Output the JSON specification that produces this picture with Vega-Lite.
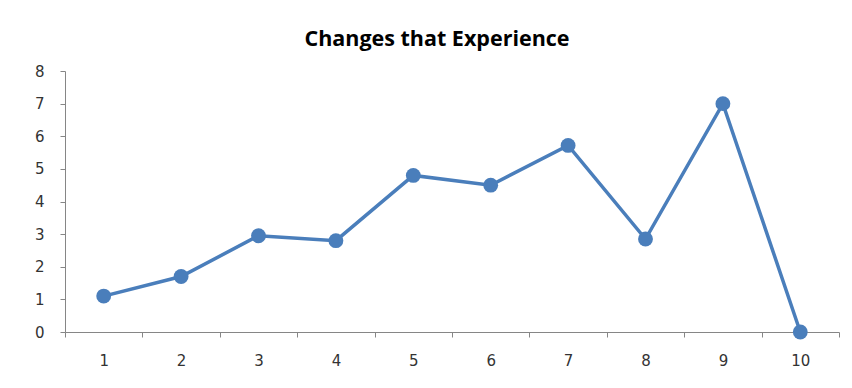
{
  "$schema": "https://vega.github.io/schema/vega-lite/v6.json",
  "autosize": "none",
  "width": 774,
  "height": 261,
  "padding": {"left": 65, "top": 71, "right": 13, "bottom": 56},
  "background": "white",
  "title": {
    "text": "Changes that Experience",
    "font": "Open Sans",
    "fontSize": 21.5,
    "fontWeight": "bold",
    "color": "#000000",
    "anchor": "middle",
    "dx": -15,
    "offset": 14
  },
  "config": {"view": {"stroke": null}},
  "data": {
    "values": [
      {"x": "1", "y": 1.1},
      {"x": "2", "y": 1.7},
      {"x": "3", "y": 2.95},
      {"x": "4", "y": 2.8},
      {"x": "5", "y": 4.8},
      {"x": "6", "y": 4.5},
      {"x": "7", "y": 5.72},
      {"x": "8", "y": 2.85},
      {"x": "9", "y": 7.0},
      {"x": "10", "y": 0}
    ]
  },
  "mark": {"type": "line", "color": "#4a7ebb", "strokeWidth": 3.5, "point": {"filled": true, "size": 220, "color": "#4a7ebb", "opacity": 1}},
  "encoding": {
    "x": {
      "field": "x", "type": "ordinal", "sort": null,
      "scale": {"type": "band", "paddingInner": 0, "paddingOuter": 0},
      "axis": {
        "title": null, "labelAngle": 0, "tickBand": "extent",
        "domainColor": "#868686", "tickColor": "#868686", "tickSize": 5,
        "labelFont": "DejaVu Sans", "labelFontSize": 15, "labelColor": "#333333",
        "labelPadding": 16, "grid": false
      }
    },
    "y": {
      "field": "y", "type": "quantitative",
      "scale": {"domain": [0, 8], "nice": false},
      "axis": {
        "title": null, "values": [0,1,2,3,4,5,6,7,8],
        "domainColor": "#868686", "tickColor": "#868686", "tickSize": 5,
        "labelFont": "DejaVu Sans", "labelFontSize": 15, "labelColor": "#333333",
        "labelPadding": 16, "grid": false
      }
    }
  }
}
